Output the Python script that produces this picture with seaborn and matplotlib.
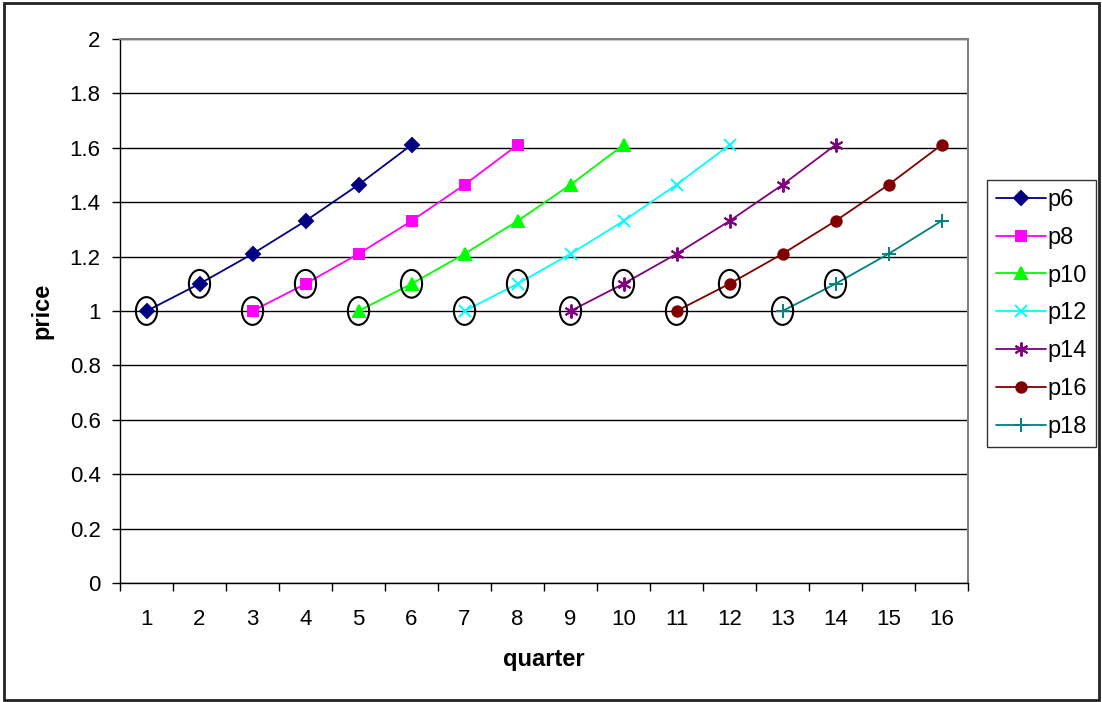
import pandas as pd
import matplotlib
matplotlib.use("Agg")
import matplotlib.pyplot as plt
from matplotlib.patches import Ellipse, Rectangle
import seaborn as sns

# values
quarters = list(range(1, 17))
series = ["p6", "p8", "p10", "p12", "p14", "p16", "p18"]
start_quarter = [1, 3, 5, 7, 9, 11, 13]
price_path = [1.0, 1.1, 1.21, 1.331, 1.4641, 1.6105]
p18_prices = [1.0, 1.1, 1.21, 1.331]

colors = {"p6": "#000080", "p8": "#FF00FF", "p10": "#00FF00", "p12": "#00FFFF",
          "p14": "#800080", "p16": "#800000", "p18": "#008080"}
markers = {"p6": "D", "p8": "s", "p10": "^", "p12": "x",
           "p14": (6, 2, 0), "p16": "o", "p18": "+"}
msizes = {"p6": 7.5, "p8": 7, "p10": 9, "p12": 9, "p14": 10, "p16": 7.5, "p18": 10}

rows = []
for name, q0 in zip(series, start_quarter):
    vals = p18_prices if name == "p18" else price_path
    for i, v in enumerate(vals):
        rows.append({"quarter": q0 + i, "price": v, "series": name})
df = pd.DataFrame(rows)

sns.set_style("white")
plt.rcParams["font.family"] = ["Liberation Sans", "DejaVu Sans"]
plt.rcParams["text.color"] = "black"
plt.rcParams["axes.labelcolor"] = "black"
plt.rcParams["xtick.color"] = "black"
plt.rcParams["ytick.color"] = "black"

fig = plt.figure(figsize=(11.02, 7.02), dpi=100)
ax = fig.add_axes([120 / 1102, 119 / 702, 848 / 1102, 544 / 702])

for name in series:
    sub = df[df.series == name]
    sns.lineplot(data=sub, x="quarter", y="price", color=colors[name],
                 marker=markers[name], markersize=msizes[name], linewidth=1.3,
                 markeredgewidth=1.4, markeredgecolor=colors[name],
                 label=name, ax=ax, zorder=3)

# circles around the first two points of every series
for name, q0 in zip(series, start_quarter):
    vals = p18_prices if name == "p18" else price_path
    for i in range(2):
        ax.add_patch(Ellipse((q0 + i, vals[i]), 0.4, 0.102, fill=False,
                             edgecolor="black", lw=1.5, zorder=4))

ax.set_xlim(0.5, 16.5)
ax.set_ylim(0, 2)
ax.set_yticks([i / 5 for i in range(11)])
ax.set_yticklabels(["0", "0.2", "0.4", "0.6", "0.8", "1", "1.2", "1.4", "1.6", "1.8", "2"])
ax.set_xticks([q - 0.5 for q in quarters] + [16.5])
ax.set_xticklabels([])
ax.set_xticks(quarters, minor=True)
ax.set_xticklabels([str(q) for q in quarters], minor=True)
ax.tick_params(axis="x", which="major", length=6, width=1, color="black", direction="out", bottom=True)
ax.tick_params(axis="x", which="minor", length=0, pad=19, labelsize=16, labelcolor="black")
ax.tick_params(axis="y", length=6, width=1, color="black", direction="out", left=True, pad=8,
               labelsize=16, labelcolor="black")

ax.yaxis.grid(True, color="black", lw=1)
ax.xaxis.grid(False)
ax.set_axisbelow(True)
for s in ["left", "bottom"]:
    ax.spines[s].set_color("black")
    ax.spines[s].set_linewidth(1)
for s in ["top", "right"]:
    ax.spines[s].set_color("#808080")
    ax.spines[s].set_linewidth(1.5)

ax.set_xlabel("quarter", fontsize=17, fontweight="bold", color="black")
ax.set_ylabel("price", fontsize=17, fontweight="bold", color="black")
ax.xaxis.set_label_coords(0.5, -0.1415)
ax.xaxis.label.set_va("center")
ax.yaxis.set_label_coords(-(120 - 42) / 848, 0.5)
ax.yaxis.label.set_va("center")

leg = ax.legend(loc="upper left", bbox_to_anchor=(987 / 1102, 1 - 180 / 702),
                bbox_transform=fig.transFigure, fontsize=17, frameon=True,
                fancybox=False, edgecolor="black", handlelength=2.1,
                handletextpad=0.1, labelspacing=0.67, borderpad=0.38,
                borderaxespad=0)
leg.get_frame().set_linewidth(1)
for t in leg.get_texts():
    t.set_color("black")

fig.patches.append(Rectangle((4 / 1102, 2 / 702), 1095 / 1102, 697 / 702,
                             transform=fig.transFigure, fill=False,
                             edgecolor="#222222", lw=2))

fig.savefig("out.png", dpi=100)
